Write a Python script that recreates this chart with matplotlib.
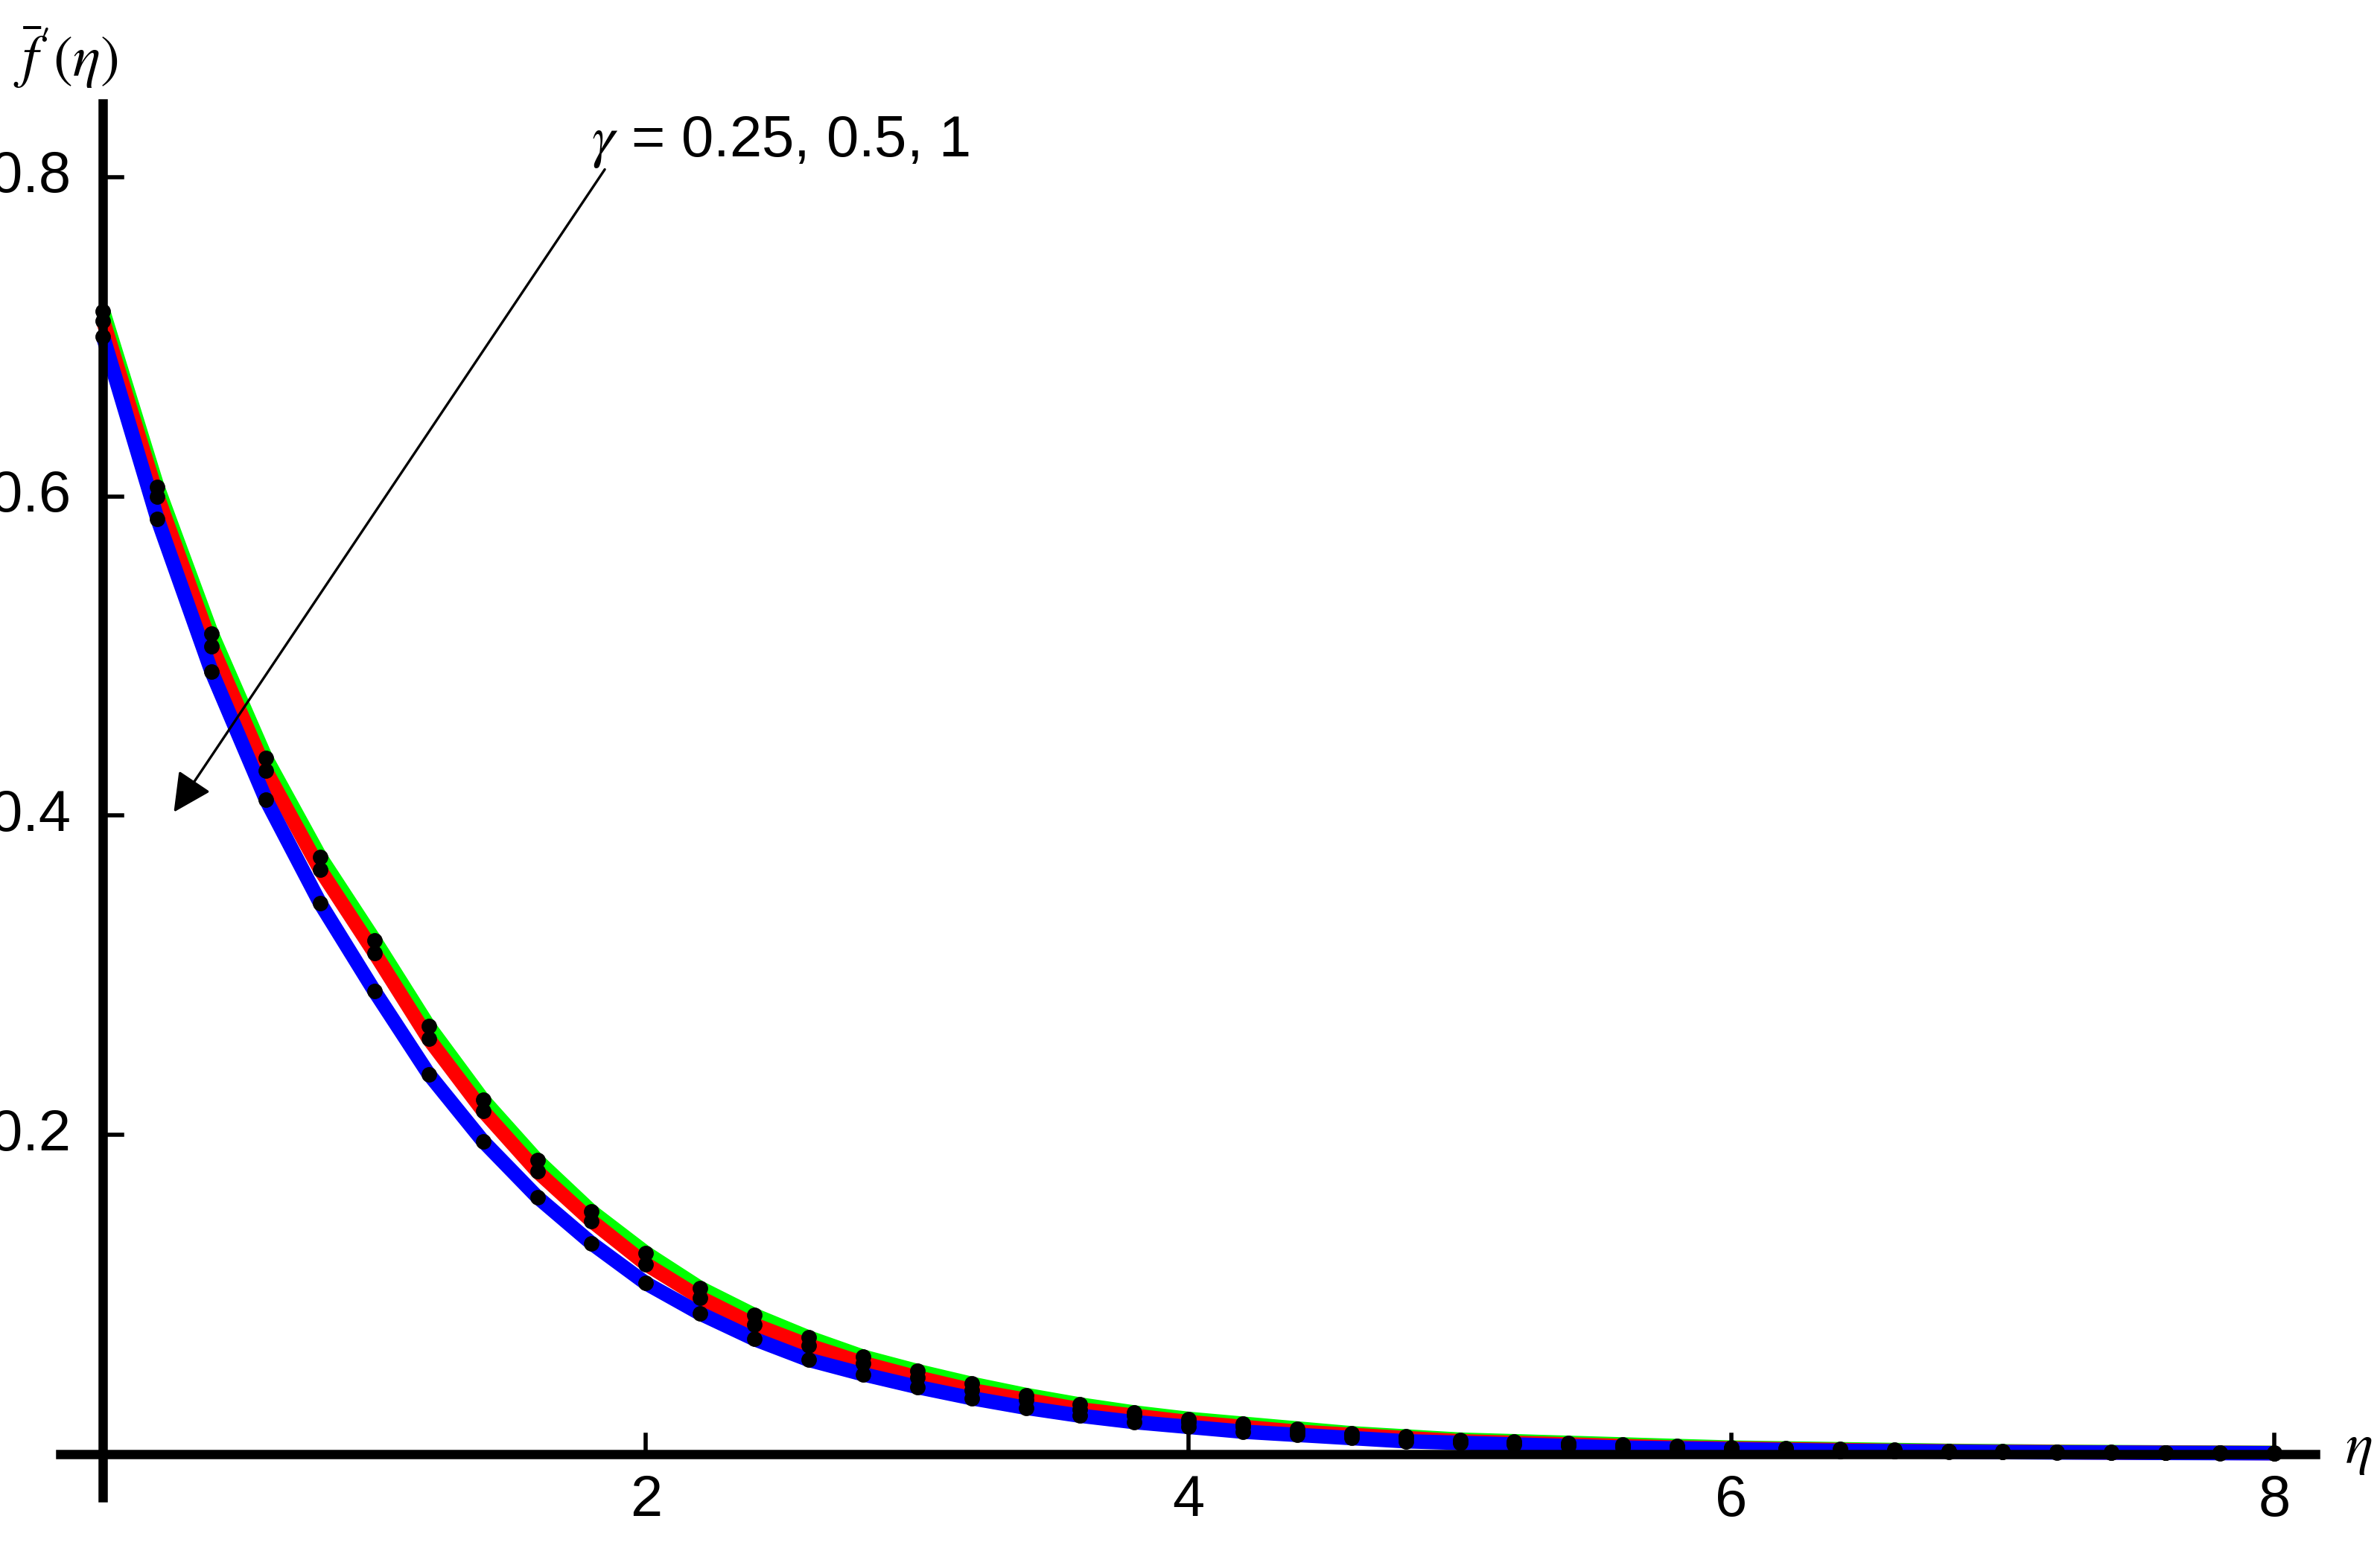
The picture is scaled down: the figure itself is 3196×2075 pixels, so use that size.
import numpy as np
import matplotlib.pyplot as plt

eta = [round(0.2 * i, 1) for i in range(41)]

f_blue = [0.700, 0.586, 0.490, 0.410, 0.345, 0.290, 0.238, 0.196, 0.161, 0.132, 0.107,
          0.088, 0.072, 0.059, 0.050, 0.042, 0.035, 0.029, 0.024, 0.020, 0.017,
          0.014, 0.012, 0.010, 0.008, 0.007, 0.006, 0.005, 0.004, 0.0035, 0.003,
          0.0025, 0.002, 0.0018, 0.0015, 0.0012, 0.001, 0.0009, 0.0007, 0.0006, 0.0005]
f_red = [0.710, 0.600, 0.506, 0.428, 0.366, 0.314, 0.260, 0.215, 0.177, 0.146, 0.119,
         0.098, 0.081, 0.068, 0.057, 0.048, 0.040, 0.034, 0.028, 0.024, 0.020,
         0.017, 0.014, 0.012, 0.010, 0.008, 0.007, 0.006, 0.005, 0.004, 0.0035,
         0.003, 0.0025, 0.002, 0.0017, 0.0014, 0.0012, 0.001, 0.0008, 0.0007, 0.0006]
f_green = [0.716, 0.606, 0.514, 0.436, 0.374, 0.322, 0.268, 0.222, 0.184, 0.152, 0.126,
           0.104, 0.087, 0.073, 0.061, 0.052, 0.044, 0.037, 0.031, 0.026, 0.022,
           0.019, 0.016, 0.013, 0.011, 0.009, 0.008, 0.007, 0.006, 0.005, 0.004,
           0.0035, 0.003, 0.0025, 0.002, 0.0017, 0.0014, 0.0012, 0.001, 0.0008, 0.0007]

xticks = [2, 4, 6, 8]
yticks = [0.2, 0.4, 0.6, 0.8]

plt.rcParams['font.family'] = ['Liberation Sans', 'DejaVu Sans']
plt.rcParams['mathtext.fontset'] = 'stix'
fig = plt.figure(figsize=(15.98, 10.375), dpi=200)
ax = fig.add_axes([0, 0, 1, 1])
ax.set_xlim(-0.38, 8.39)
ax.set_ylim(-0.057, 0.911)
ax.axis("off")

for y, c in [(f_green, "#00ff00"), (f_red, "#ff0000"), (f_blue, "#0000ff")]:
    ax.plot(eta, y, color=c, lw=7, solid_capstyle="butt", zorder=2)
for y in [f_green, f_red, f_blue]:
    ax.plot(eta, y, "o", color="black", ms=6.5, zorder=3)

# axes
ax.plot([0, 0], [-0.027, 0.846], color="black", lw=4.5, zorder=4)
ax.plot([-0.157, 8.15], [0, 0], color="black", lw=4.5, zorder=4)
for t in xticks:
    ax.plot([t, t], [0, 0.012], color="black", lw=2, zorder=4)
    ax.text(t, -0.012, str(t), ha="center", va="top", fontsize=28)
for t in yticks:
    ax.plot([0, 0.07], [t, t], color="black", lw=2, zorder=4)
    ax.text(-0.12, t, str(t), ha="right", va="center", fontsize=28)

ax.text(-0.33, 0.875, r"$\bar{f}'(\eta)$", ha="left", va="center", fontsize=28)
ax.text(8.26, 0.003, r"$\eta$", ha="left", va="center", fontsize=28)

ax.annotate("", xy=(0.252, 0.40), xytext=(1.857, 0.807),
            arrowprops=dict(arrowstyle="-|>", color="black", lw=1.2, mutation_scale=40))
ax.text(1.80, 0.822, r"$\gamma$ = 0.25, 0.5, 1", ha="left", va="center", fontsize=28)

fig.savefig("out.png")
